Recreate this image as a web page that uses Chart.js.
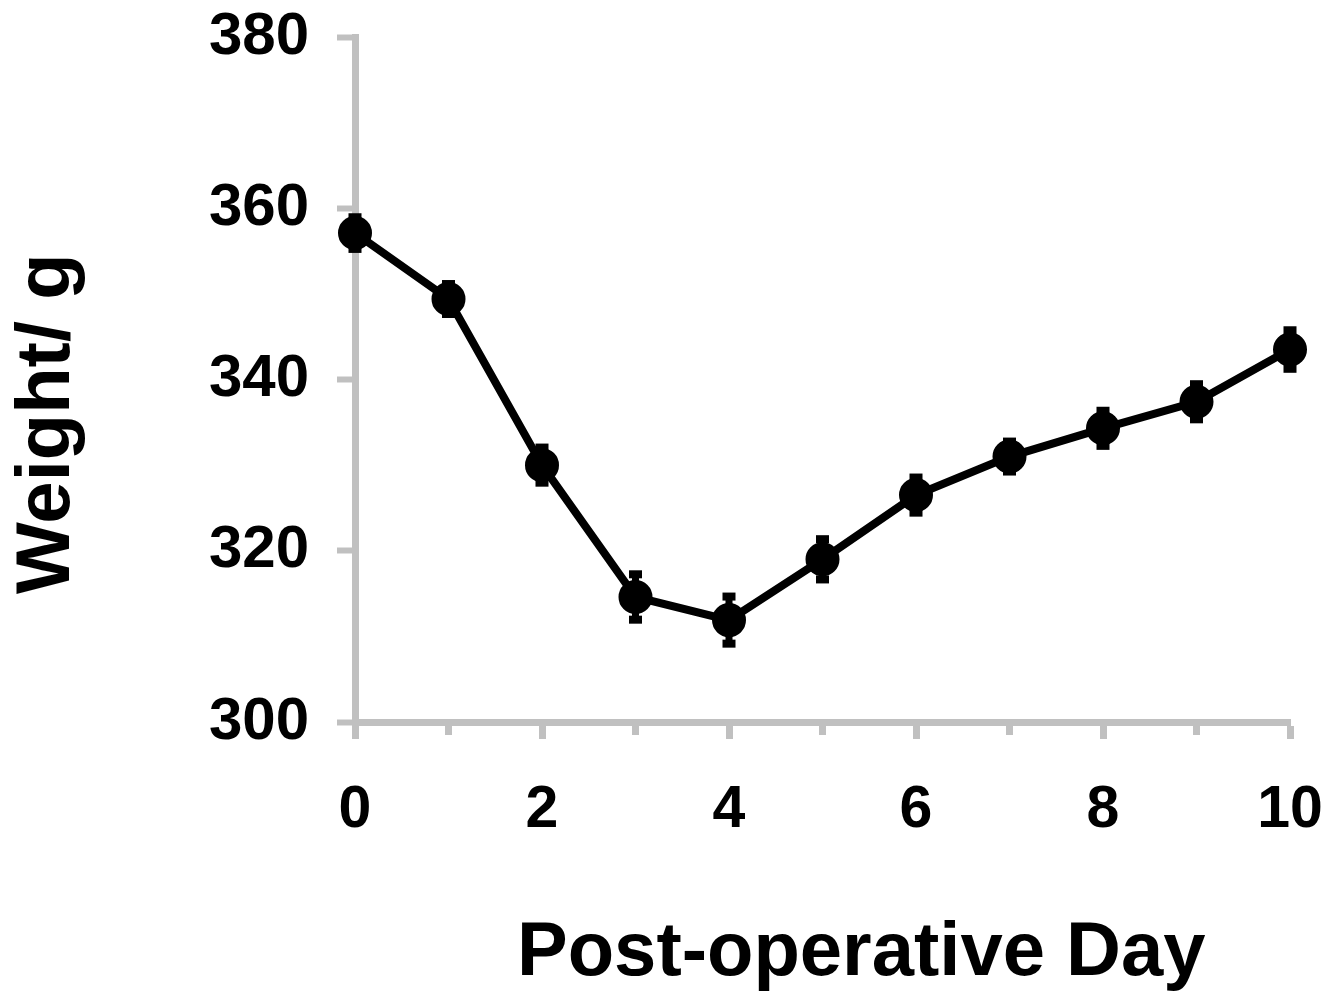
<!DOCTYPE html>
<html>
<head>
<meta charset="utf-8">
<script src="https://cdn.jsdelivr.net/npm/chart.js@4/dist/chart.umd.min.js"></script>
<style>
  html, body { margin: 0; padding: 0; background: #ffffff; }
  #wrap { width: 1340px; height: 991px; }
</style>
</head>
<body>
<div id="wrap"><canvas id="c" width="1340" height="991"></canvas></div>
<script>
const days = [0, 1, 2, 3, 4, 5, 6, 7, 8, 9, 10];
const weights = [357.1, 349.4, 330.0, 314.6, 311.9, 319.0, 326.5, 331.0, 334.3, 337.4, 343.5];
const errors = [2.2, 2.1, 2.4, 3.0, 3.1, 2.7, 2.4, 2.1, 2.4, 2.4, 2.6];
const yTicks = [300, 320, 340, 360, 380];
const xTitle = 'Post-operative Day';
const yTitle = 'Weight/ g';

const FONT = "Arial, 'Liberation Sans', sans-serif";
const AXIS = '#c0c0c0';

const points = days.map((d, i) => ({ x: d, y: weights[i] }));

const errorBars = {
  id: 'errorBars',
  beforeDatasetsDraw(chart) {
    const ctx = chart.ctx;
    const xs = chart.scales.x, ys = chart.scales.y;
    ctx.save();
    ctx.fillStyle = '#000';
    days.forEach((d, i) => {
      const px = xs.getPixelForValue(d);
      const top = ys.getPixelForValue(weights[i] + errors[i]);
      const bot = ys.getPixelForValue(weights[i] - errors[i]);
      ctx.fillRect(px - 3.5, top, 7, bot - top);
      ctx.fillRect(px - 6.5, top - 1, 13, 8);
      ctx.fillRect(px - 6.5, bot - 7, 13, 8);
    });
    ctx.restore();
  }
};

const minorTicks = {
  id: 'minorTicks',
  afterDraw(chart) {
    const ctx = chart.ctx;
    const xs = chart.scales.x;
    const y0 = chart.chartArea.bottom;
    ctx.save();
    ctx.fillStyle = AXIS;
    days.forEach(d => {
      if (d % 2 === 1) {
        const px = xs.getPixelForValue(d);
        ctx.fillRect(px - 3.5, y0, 7, 13);
      }
    });
    ctx.restore();
  }
};

const axisTitles = {
  id: 'axisTitles',
  afterDraw(chart) {
    const ctx = chart.ctx;
    ctx.save();
    ctx.fillStyle = '#000';
    ctx.font = "bold 76px " + FONT;
    ctx.textAlign = 'left';
    ctx.textBaseline = 'alphabetic';
    ctx.fillText(xTitle, 517, 975);
    ctx.translate(69, 594);
    ctx.rotate(-Math.PI / 2);
    ctx.fillText(yTitle, 0, 0);
    ctx.restore();
  }
};

new Chart(document.getElementById('c'), {
  type: 'line',
  data: {
    datasets: [{
      data: points,
      borderColor: '#000',
      backgroundColor: '#000',
      borderWidth: 8,
      pointRadius: 16,
      pointBorderWidth: 2,
      pointBackgroundColor: '#000',
      pointBorderColor: '#000',
      pointHoverRadius: 16,
      tension: 0,
      clip: false
    }]
  },
  options: {
    responsive: false,
    animation: false,
    events: [],
    layout: { padding: { top: 37, right: 50, left: 0, bottom: 0 } },
    plugins: { legend: { display: false }, tooltip: { enabled: false } },
    scales: {
      x: {
        type: 'linear',
        min: 0,
        max: 10,
        afterFit(scale) {
          scale.height = 269;
          scale.paddingLeft = 0; scale.paddingRight = 0;
          scale.paddingTop = 0; scale.paddingBottom = 0;
        },
        afterBuildTicks(scale) { scale.ticks = days.map(v => ({ value: v })); },
        ticks: {
          stepSize: 1,
          color: '#000',
          font: { family: FONT, size: 59, weight: 'bold' },
          padding: 36,
          maxRotation: 0,
          autoSkip: false,
          callback: (v) => (v % 2 === 0 ? String(v) : '')
        },
        grid: {
          drawOnChartArea: false,
          drawTicks: true,
          tickLength: 17,
          tickWidth: 7,
          tickColor: (c) => (c.tick && c.tick.value % 2 === 0 ? AXIS : 'rgba(0,0,0,0)')
        },
        border: { display: true, color: AXIS, width: 7 }
      },
      y: {
        type: 'linear',
        min: 300,
        max: 380,
        afterFit(scale) {
          scale.width = 355;
          scale.paddingLeft = 0; scale.paddingRight = 0;
          scale.paddingTop = 0; scale.paddingBottom = 0;
        },
        afterBuildTicks(scale) { scale.ticks = yTicks.map(v => ({ value: v })); },
        ticks: {
          color: '#000',
          font: { family: FONT, size: 60, weight: 'bold' },
          padding: 28
        },
        grid: {
          drawOnChartArea: false,
          drawTicks: true,
          tickLength: 18,
          tickWidth: 6,
          tickColor: AXIS
        },
        border: { display: true, color: AXIS, width: 7 }
      }
    }
  },
  plugins: [errorBars, minorTicks, axisTitles]
});
</script>
</body>
</html>
